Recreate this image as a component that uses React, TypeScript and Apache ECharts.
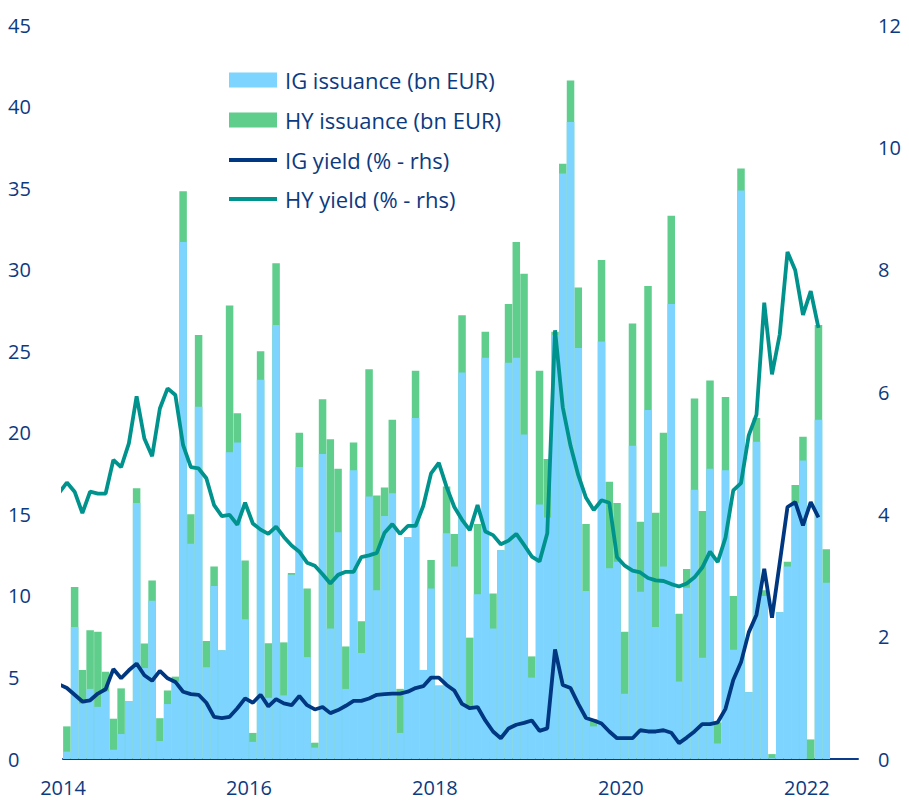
import React, { useEffect, useRef } from "react";
import * as echarts from "echarts";

// Monthly issuance, Jan 2014 - Mar 2022 (bn EUR)
const issuanceStart = "2014-01";
const igIssuance = [
  0.45, 8.1, 3.4, 4.3, 3.2, 4.15, 0.57, 1.53, 3.56, 15.7, 5.58, 9.7,
  1.1, 3.37, 4.75, 31.7, 13.2, 21.6, 5.63, 10.6, 6.66, 18.8, 19.4, 8.57,
  1.05, 23.25, 3.75, 26.6, 3.9, 11.3, 17.9, 6.25, 0.7, 18.7, 8.0, 13.9,
  4.3, 17.7, 6.5, 16.1, 10.35, 14.9, 16.3, 1.6, 13.6, 20.9, 5.46, 10.45,
  4.5, 13.84, 11.8, 23.7, 3.2, 10.1, 24.6, 8.0, 12.8, 24.3, 24.6, 19.9,
  4.99, 15.6, 14.8, 26.0, 35.9, 39.05, 25.2, 10.3, 2.0, 25.6, 11.7, 12.1,
  4.0, 19.2, 10.25, 21.4, 8.1, 11.8, 27.9, 4.75, 10.5, 16.5, 6.2, 17.8,
  0.95, 17.7, 6.7, 34.85, 4.1, 19.45, 10.0, 0.05, 9.0, 11.8, 15.7, 18.3,
  0, 20.8, 10.8,
];
const hyIssuance = [
  1.55, 2.45, 2.05, 3.6, 4.6, 1.2, 1.9, 2.8, 0, 0.9, 1.5, 1.25,
  1.4, 0.83, 0.3, 3.1, 1.8, 4.4, 1.6, 1.2, 0, 9.0, 1.8, 3.6,
  0.55, 1.75, 3.35, 3.8, 3.25, 0.1, 2.1, 4.2, 0.3, 3.35, 11.6, 3.9,
  2.6, 1.7, 1.95, 7.8, 5.8, 1.75, 4.5, 2.7, 0, 2.9, 0, 1.75,
  0, 2.86, 2.0, 3.5, 4.24, 4.3, 1.6, 2.15, 0, 3.6, 7.1, 9.85,
  1.3, 8.2, 3.6, 0.2, 0.6, 2.55, 3.7, 4.1, 0.45, 5.0, 5.3, 3.6,
  3.8, 7.5, 4.3, 7.6, 7.0, 8.2, 5.4, 4.15, 1.15, 5.6, 9.0, 5.4,
  1.3, 4.5, 3.3, 1.35, 0, 1.45, 0.35, 0.25, 0, 0.3, 1.1, 1.45,
  1.2, 5.8, 2.06,
];

// Monthly yields, Dec 2013 - Feb 2022 (%)
const yieldStart = "2013-12";
const igYield = [
  1.22,
  1.16, 1.05, 0.94, 0.96, 1.07, 1.14, 1.47, 1.32, 1.45, 1.56, 1.37, 1.28,
  1.44, 1.32, 1.26, 1.1, 1.06, 1.05, 0.92, 0.69, 0.67, 0.69, 0.83, 0.99,
  0.92, 1.05, 0.86, 0.98, 0.91, 0.88, 1.03, 0.88, 0.81, 0.85, 0.75, 0.8,
  0.87, 0.95, 0.95, 0.99, 1.05, 1.06, 1.07, 1.07, 1.1, 1.16, 1.19, 1.33,
  1.33, 1.21, 1.12, 0.9, 0.83, 0.85, 0.63, 0.45, 0.34, 0.5, 0.56, 0.59,
  0.63, 0.46, 0.5, 1.79, 1.21, 1.16, 0.9, 0.67, 0.63, 0.58, 0.45, 0.34,
  0.34, 0.34, 0.47, 0.45, 0.45, 0.47, 0.43, 0.26, 0.35, 0.45, 0.57, 0.57,
  0.6, 0.82, 1.29, 1.58, 2.07, 2.36, 3.11, 2.31, 3.21, 4.12, 4.2, 3.82,
  4.2, 3.95,
];
const hyYield = [
  4.35,
  4.52, 4.37, 4.02, 4.37, 4.34, 4.34, 4.89, 4.77, 5.16, 5.93, 5.24, 4.95,
  5.73, 6.06, 5.95, 5.13, 4.77, 4.75, 4.59, 4.15, 3.97, 3.99, 3.83, 4.19,
  3.85, 3.75, 3.68, 3.8, 3.63, 3.49, 3.39, 3.21, 3.16, 3.02, 2.87, 3.01,
  3.06, 3.06, 3.3, 3.33, 3.37, 3.7, 3.84, 3.68, 3.81, 3.81, 4.14, 4.67,
  4.84, 4.45, 4.12, 3.91, 3.74, 4.15, 3.72, 3.66, 3.51, 3.57, 3.68, 3.5,
  3.31, 3.23, 3.69, 7.01, 5.75, 5.12, 4.64, 4.27, 4.07, 4.23, 4.19, 3.3,
  3.16, 3.08, 3.05, 2.96, 2.92, 2.91, 2.86, 2.82, 2.87, 2.97, 3.13, 3.39,
  3.22, 3.62, 4.39, 4.51, 5.29, 5.63, 7.46, 6.29, 6.94, 8.29, 7.99, 7.26,
  7.65, 7.05,
];

const seriesNames = [
  "IG issuance (bn EUR)",
  "HY issuance (bn EUR)",
  "IG yield (% - rhs)",
  "HY yield (% - rhs)",
];
const xTickLabels = ["2014", "2016", "2018", "2020", "2022"];

const COLORS = {
  ig: "#7DD4FF",
  hy: "#5FCD8B",
  igLine: "#003781",
  hyLine: "#00928C",
  text: "#0C3A80",
};
const FONT = "'Open Sans', 'Noto Sans', sans-serif";

// month "YYYY-MM" + k months -> decimal-year position of the middle of that month
function monthPos(start: string, k: number): number {
  const [y, m] = start.split("-").map(Number);
  const idx = y * 12 + (m - 1) + k;
  return Math.floor(idx / 12) + ((idx % 12) + 0.5) / 12;
}

export default function App() {
  const ref = useRef<HTMLDivElement>(null);

  useEffect(() => {
    if (!ref.current) return;
    const chart = echarts.init(ref.current, undefined, { renderer: "svg" });

    const igData = igIssuance.map((v, i) => [monthPos(issuanceStart, i), v]);
    const totalData = igIssuance.map((v, i) => [
      monthPos(issuanceStart, i),
      +(v + hyIssuance[i]).toFixed(3),
    ]);
    const igYData = igYield.map((v, i) => [monthPos(yieldStart, i), v]);
    const hyYData = hyYield.map((v, i) => [monthPos(yieldStart, i), v]);

    const xMin = Number(xTickLabels[0]);

    const legendText = {
      color: COLORS.text,
      fontSize: 22,
      fontFamily: FONT,
      lineHeight: 22,
      padding: [0, 0, 0, 3],
    };

    chart.setOption({
      animation: false,
      textStyle: { fontFamily: FONT },
      grid: { left: 63, right: 51, top: 25, bottom: 43, containLabel: false },
      legend: [
        {
          data: [seriesNames[0], seriesNames[1]],
          orient: "vertical",
          left: 224,
          top: 64,
          icon: "rect",
          itemWidth: 48,
          itemHeight: 15,
          itemGap: 18,
          selectedMode: false,
          textStyle: legendText,
        },
        {
          data: [seriesNames[2], seriesNames[3]],
          orient: "vertical",
          left: 224,
          top: 144,
          icon: "rect",
          itemWidth: 48,
          itemHeight: 4,
          itemGap: 17,
          selectedMode: false,
          textStyle: legendText,
        },
      ],
      xAxis: {
        type: "value",
        min: xMin,
        max: 2022.55,
        interval: 2,
        axisLine: { show: true, onZero: false, lineStyle: { color: "#0B3C8C", width: 2 } },
        axisTick: { show: false },
        splitLine: { show: false },
        axisLabel: {
          color: COLORS.text,
          fontSize: 20,
          fontFamily: FONT,
          margin: 18,
          showMaxLabel: false,
          formatter: (v: number) => {
            const s = String(Math.round(v));
            return Math.abs(v - Math.round(v)) < 1e-6 && xTickLabels.includes(s) ? s : "";
          },
        },
      },
      yAxis: [
        {
          type: "value",
          min: 0,
          max: 45,
          interval: 5,
          axisLine: { show: false },
          axisTick: { show: false },
          splitLine: { show: false },
          axisLabel: { color: COLORS.text, fontSize: 20, fontFamily: FONT, align: "left", margin: 55 },
        },
        {
          type: "value",
          position: "right",
          min: 0,
          max: 12,
          interval: 2,
          axisLine: { show: false },
          axisTick: { show: false },
          splitLine: { show: false },
          axisLabel: { color: COLORS.text, fontSize: 20, fontFamily: FONT, align: "left", margin: 20 },
        },
      ],
      series: [
        {
          name: seriesNames[1],
          type: "bar",
          data: totalData,
          barWidth: 7.5,
          barGap: "-100%",
          itemStyle: { color: COLORS.hy },
          z: 2,
        },
        {
          name: seriesNames[0],
          type: "bar",
          data: igData,
          barWidth: 7.5,
          barGap: "-100%",
          itemStyle: { color: COLORS.ig },
          z: 3,
        },
        {
          name: seriesNames[2],
          type: "line",
          yAxisIndex: 1,
          data: igYData,
          symbol: "none",
          clip: true,
          color: COLORS.igLine,
          itemStyle: { color: COLORS.igLine },
          lineStyle: { color: COLORS.igLine, width: 3.8 },
          z: 5,
        },
        {
          name: seriesNames[3],
          type: "line",
          yAxisIndex: 1,
          data: hyYData,
          symbol: "none",
          clip: true,
          color: COLORS.hyLine,
          itemStyle: { color: COLORS.hyLine },
          lineStyle: { color: COLORS.hyLine, width: 3.8 },
          z: 5,
        },
      ],
    });

    return () => chart.dispose();
  }, []);

  return (
    <div
      ref={ref}
      style={{ position: "fixed", left: 0, top: 0, width: 909, height: 802, background: "#fff" }}
    />
  );
}
